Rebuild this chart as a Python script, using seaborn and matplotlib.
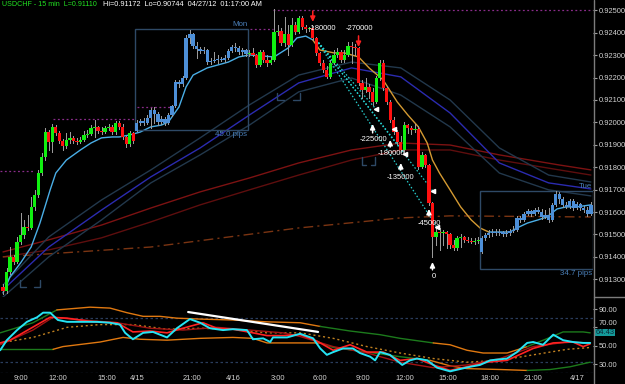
import numpy as np
import matplotlib
matplotlib.use("Agg")
import matplotlib.pyplot as plt
from matplotlib.patches import Rectangle
from matplotlib.lines import Line2D
from matplotlib import font_manager
import matplotlib.transforms as mtransforms
import seaborn as sns

# ---------------- data: USDCHF 15-min candles ----------------
close = [
    0.91248, 0.91333, 0.91400, 0.91377, 0.91467, 0.91498, 0.91534, 0.91529, 0.91623, 0.91676,
    0.91774, 0.91846, 0.91957, 0.91913, 0.91980, 0.91953, 0.91917, 0.91895, 0.91922, 0.91931,
    0.91917, 0.91913, 0.91922, 0.91944, 0.91948, 0.91975, 0.91980, 0.91962, 0.91957, 0.91975,
    0.91980, 0.91957, 0.91997, 0.91980, 0.91935, 0.91904, 0.91953, 0.91917, 0.91997, 0.92006,
    0.91997, 0.92020, 0.92055, 0.92038, 0.92002, 0.92015, 0.91997, 0.92033, 0.92073, 0.92180,
    0.92171, 0.92198, 0.92377, 0.92394, 0.92341, 0.92327, 0.92319, 0.92323, 0.92269, 0.92274,
    0.92278, 0.92283, 0.92278, 0.92287, 0.92319, 0.92336, 0.92332, 0.92314, 0.92323, 0.92305,
    0.92310, 0.92301, 0.92256, 0.92314, 0.92278, 0.92265, 0.92278, 0.92403, 0.92408, 0.92354,
    0.92394, 0.92345, 0.92434, 0.92403, 0.92466, 0.92426, 0.92417, 0.92421, 0.92377, 0.92310,
    0.92265, 0.92234, 0.92203, 0.92265, 0.92301, 0.92314, 0.92278, 0.92301, 0.92341, 0.92336,
    0.92332, 0.92176, 0.92145, 0.92158, 0.92136, 0.92091, 0.92198, 0.92265, 0.92154, 0.92091,
    0.92011, 0.91957, 0.91913, 0.91877, 0.91988, 0.91975, 0.91966, 0.91971, 0.91801, 0.91855,
    0.91810, 0.91641, 0.91489, 0.91511, 0.91507, 0.91511, 0.91502, 0.91453, 0.91440, 0.91485,
    0.91489, 0.91476, 0.91471, 0.91467, 0.91471, 0.91476, 0.91485, 0.91498, 0.91507, 0.91511,
    0.91507, 0.91511, 0.91502, 0.91507, 0.91516, 0.91520, 0.91574, 0.91565, 0.91592, 0.91605,
    0.91592, 0.91609, 0.91600, 0.91578, 0.91587, 0.91565, 0.91632, 0.91681, 0.91658, 0.91632,
    0.91623, 0.91650, 0.91618, 0.91636, 0.91618, 0.91609, 0.91592, 0.91632]
high = [
    0.91279, 0.91351, 0.91444, 0.91409, 0.91489, 0.91596, 0.91565, 0.91587, 0.91667, 0.91699,
    0.91788, 0.91864, 0.91975, 0.91966, 0.91993, 0.91988, 0.91962, 0.91926, 0.91953, 0.91957,
    0.91939, 0.91931, 0.91935, 0.91962, 0.91966, 0.91988, 0.92011, 0.91984, 0.91980, 0.91984,
    0.91993, 0.91988, 0.92006, 0.92006, 0.91993, 0.91939, 0.91962, 0.91957, 0.92011, 0.92015,
    0.92020, 0.92033, 0.92064, 0.92069, 0.92046, 0.92029, 0.92024, 0.92042, 0.92078, 0.92189,
    0.92189, 0.92207, 0.92390, 0.92412, 0.92399, 0.92359, 0.92336, 0.92336, 0.92327, 0.92287,
    0.92314, 0.92301, 0.92292, 0.92301, 0.92327, 0.92345, 0.92354, 0.92341, 0.92332, 0.92327,
    0.92323, 0.92332, 0.92305, 0.92323, 0.92323, 0.92301, 0.92292, 0.92506, 0.92434, 0.92421,
    0.92470, 0.92434, 0.92466, 0.92448, 0.92475, 0.92475, 0.92434, 0.92426, 0.92430, 0.92381,
    0.92314, 0.92278, 0.92252, 0.92278, 0.92323, 0.92332, 0.92323, 0.92323, 0.92359, 0.92359,
    0.92350, 0.92336, 0.92189, 0.92198, 0.92171, 0.92154, 0.92207, 0.92278, 0.92278, 0.92162,
    0.92100, 0.92024, 0.91966, 0.91939, 0.92002, 0.91993, 0.91984, 0.91993, 0.91984, 0.91868,
    0.91859, 0.91815, 0.91645, 0.91529, 0.91529, 0.91520, 0.91516, 0.91507, 0.91476, 0.91493,
    0.91502, 0.91493, 0.91489, 0.91485, 0.91485, 0.91489, 0.91493, 0.91507, 0.91520, 0.91525,
    0.91525, 0.91525, 0.91516, 0.91520, 0.91525, 0.91538, 0.91583, 0.91583, 0.91600, 0.91614,
    0.91609, 0.91618, 0.91623, 0.91614, 0.91609, 0.91618, 0.91641, 0.91694, 0.91690, 0.91667,
    0.91645, 0.91658, 0.91658, 0.91645, 0.91641, 0.91627, 0.91623, 0.91645]
low = [
    0.91235, 0.91239, 0.91324, 0.91369, 0.91373, 0.91458, 0.91485, 0.91520, 0.91525, 0.91609,
    0.91667, 0.91765, 0.91832, 0.91877, 0.91868, 0.91944, 0.91908, 0.91877, 0.91886, 0.91908,
    0.91908, 0.91904, 0.91908, 0.91917, 0.91935, 0.91944, 0.91935, 0.91953, 0.91948, 0.91953,
    0.91966, 0.91948, 0.91948, 0.91971, 0.91926, 0.91890, 0.91895, 0.91908, 0.91962, 0.91988,
    0.91988, 0.91993, 0.91975, 0.91997, 0.91988, 0.91993, 0.91988, 0.91993, 0.92029, 0.92069,
    0.92158, 0.92162, 0.92194, 0.92354, 0.92332, 0.92287, 0.92310, 0.92310, 0.92261, 0.92261,
    0.92269, 0.92265, 0.92274, 0.92269, 0.92283, 0.92314, 0.92319, 0.92305, 0.92301, 0.92296,
    0.92296, 0.92296, 0.92247, 0.92252, 0.92269, 0.92252, 0.92261, 0.92274, 0.92390, 0.92345,
    0.92341, 0.92301, 0.92341, 0.92394, 0.92399, 0.92417, 0.92403, 0.92408, 0.92368, 0.92301,
    0.92256, 0.92225, 0.92198, 0.92198, 0.92261, 0.92292, 0.92269, 0.92269, 0.92296, 0.92265,
    0.92301, 0.92167, 0.92109, 0.92136, 0.92109, 0.92078, 0.92087, 0.92189, 0.92145, 0.92082,
    0.92002, 0.91948, 0.91904, 0.91868, 0.91864, 0.91953, 0.91948, 0.91957, 0.91792, 0.91797,
    0.91801, 0.91632, 0.91400, 0.91453, 0.91431, 0.91453, 0.91440, 0.91440, 0.91431, 0.91431,
    0.91444, 0.91467, 0.91467, 0.91462, 0.91458, 0.91462, 0.91418, 0.91476, 0.91489, 0.91493,
    0.91498, 0.91498, 0.91493, 0.91493, 0.91498, 0.91511, 0.91516, 0.91556, 0.91560, 0.91587,
    0.91583, 0.91587, 0.91596, 0.91569, 0.91574, 0.91556, 0.91560, 0.91627, 0.91641, 0.91623,
    0.91618, 0.91618, 0.91609, 0.91614, 0.91609, 0.91600, 0.91583, 0.91587]
first_open = 0.91266
gap_opens = {38: 0.91962, 136: 0.91422}

# session boxes: (first bar, last bar, high, low, name)
sessions = [(38, 69, 0.92417, 0.91967, "Mon"), (136, 167, 0.91694, 0.91347, "Tue")]

# prior session high levels: (price, from bar, to bar)
levels = [(0.91783, -0.8, 8.5), (0.92015, 14.2, 37.5), (0.92069, 38.0, 48.3),
          (0.92417, 70.2, 76.7), (0.92501, 76.7, 167.6)]

# session low brackets: (from bar, to bar, top price, bottom price)
brackets = [(4.8, 10.5, 0.91297, 0.91266), (77.8, 84.4, 0.92131, 0.92100), (102.0, 105.7, 0.91846, 0.91810)]

# moving average (light blue, orange while trending down)
ema_bar = [0, 2, 5, 8, 10.5, 13.4, 15, 18, 22, 25, 28, 31, 33, 36, 39, 42, 45, 47, 50, 52,
           54, 58, 64, 67, 70, 77, 81, 83.5, 86, 88, 90, 94, 97, 101, 104, 108, 112, 115, 118,
           120.5, 122, 124, 127, 130, 133, 135.5, 138, 144, 146, 149, 152, 154.5, 157.4, 160, 163, 167]
ema_price = [0.91239, 0.91311, 0.91373, 0.91444, 0.91551, 0.91699, 0.91774, 0.91832, 0.91877, 0.91908,
             0.91931, 0.91935, 0.91935, 0.91944, 0.91957, 0.91980, 0.91988, 0.92002, 0.92069, 0.92158,
             0.92211, 0.92243, 0.92269, 0.92292, 0.92301, 0.92292, 0.92332, 0.92377, 0.92385, 0.92368,
             0.92323, 0.92310, 0.92310, 0.92292, 0.92243, 0.92189, 0.92091, 0.92033, 0.91980, 0.91908,
             0.91832, 0.91774, 0.91699, 0.91623, 0.91565, 0.91529, 0.91511, 0.91511, 0.91529, 0.91551,
             0.91565, 0.91578, 0.91614, 0.91623, 0.91623, 0.91632]
ema_down_breaks = [88, 138]

# envelope bands
band_bar = [0, 13, 28, 42, 56, 70, 84, 99, 113, 127, 141, 155, 167]
band_upper = [0.91275, 0.91489, 0.91654, 0.91788, 0.91931, 0.92078, 0.92211, 0.92269, 0.92243, 0.92100, 0.91886, 0.91765, 0.91734]
band_mid = [0.91253, 0.91444, 0.91609, 0.91757, 0.91886, 0.92033, 0.92176, 0.92243, 0.92203, 0.92042, 0.91819, 0.91730, 0.91703]
band_lower = [0.91221, 0.91400, 0.91565, 0.91730, 0.91855, 0.91988, 0.92136, 0.92198, 0.92122, 0.91980, 0.91774, 0.91699, 0.91672]

# slow averages (dark red)
slow_bar = [0, 13, 28, 42, 56, 70, 84, 99, 113, 127, 141, 158, 167]
slow_a = [0.91422, 0.91476, 0.91542, 0.91618, 0.91690, 0.91752, 0.91819, 0.91877, 0.91908, 0.91899, 0.91855, 0.91810, 0.91788]
slow_b = [0.91400, 0.91431, 0.91485, 0.91556, 0.91632, 0.91699, 0.91765, 0.91832, 0.91877, 0.91877, 0.91832, 0.91788, 0.91765]
pivot_bar = [0, 42, 84, 113, 127, 167]
pivot_price = [0.91400, 0.91444, 0.91529, 0.91574, 0.91583, 0.91578]

# trades
sell_bars = [88, 101]
sell_tail = [0.92497, 0.92386]
sell_tip = [0.92448, 0.92336]
sell_labels = [(86.8, 0.92417, "-180000"), (97.2, 0.92417, "-270000")]
exit_arrow_bars = [105, 110, 113, 121, 122]
exit_arrow_tail = [0.91953, 0.91890, 0.91788, 0.91583, 0.91342]
exit_arrow_tip = [0.91993, 0.91922, 0.91819, 0.91614, 0.91377]
exit_labels = [(101.4, 0.91922, "-225000"), (106.3, 0.91859, "-180000"), (109.1, 0.91752, "-135000"),
               (117.9, 0.91551, "-45000"), (122.4, 0.91314, "0")]
exit_mark_bar = [105.9, 111.1, 114.2, 122.1, 123.2]
exit_mark_price = [0.92060, 0.91971, 0.91859, 0.91694, 0.91534]
entry_bar, entry_price = 89.0, 0.92368

# ---------------- oscillator panel ----------------
cyan_bar = [-0.8, 1.1, 4.0, 6.8, 9.7, 11.4, 13.4, 15.6, 18.2, 22.7, 26.7, 30.4, 33.2, 34.7, 36.9, 39.8,
            42.6, 46.6, 49.4, 53.1, 56.0, 58.8, 62.5, 65.3, 69.3, 71.0, 73.9, 75.9, 76.7, 80.7, 84.4,
            88.1, 90.1, 92.0, 93.8, 96.6, 99.4, 101.4, 104.3, 105.7, 107.1, 109.9, 113.4, 115.6, 117.6,
            120.5, 123.3, 127.0, 129.8, 132.7, 135.5, 138.4, 143.2, 146.0, 148.9, 150.6, 153.4, 156.3,
            159.1, 161.9, 164.8, 166.8]
cyan_val = [45, 56, 67, 76, 81, 86, 86, 78, 76, 76, 76, 75, 73, 64, 57, 64, 65, 59, 69, 79, 75, 69,
            67, 68, 67, 57, 58, 54, 59, 59, 63, 58, 47, 40, 43, 47, 47, 42, 38, 34, 43, 40, 29, 34, 36,
            34, 26, 22, 24.5, 27, 29, 34, 36, 43, 53, 54, 51, 62, 56, 54, 53, 53]
red_bar = [-0.8, 2.0, 13.4, 18.2, 25.6, 32.4, 36.9, 41.8, 46.6, 51.1, 56.8, 60.8, 65.3, 71.0, 75.0,
           79.5, 84.4, 89.2, 93.8, 98.6, 103.4, 108.0, 112.8, 117.6, 122.2, 127.0, 131.8, 137.5,
           143.2, 150.6, 156.3, 161.9, 164.8, 166.8]
red_val = [53, 56, 81, 80, 76, 75, 65, 66, 64, 69, 75, 69, 68, 64, 61, 61, 62, 55, 45, 51, 43, 43,
           34, 36, 29, 23, 27, 32, 34, 47, 53, 54, 49, 52]
dred_bar = [-0.8, 8.5, 14.2, 22.7, 32.4, 41.8, 51.1, 60.8, 70.2, 79.5, 84.4, 93.8, 103.4, 112.8,
            122.2, 131.8, 141.2, 150.6, 160.2, 166.8]
dred_val = [51, 67, 81, 78, 75, 69, 67, 70, 67, 64, 60, 49, 42, 32, 26, 29, 36, 49, 54, 53]
up_bar = [-0.8, 8.5, 15.3, 24.7, 30.4, 35.2, 39.8, 44.6, 49.4, 56.0, 65.3, 75.0, 84.4, 90.1, 98.6,
          107.1, 112.8, 122.2, 127.0, 131.8, 136.4, 143.2, 148.9, 155.4, 159.1, 164.8, 166.8]
up_val = [64, 75, 89, 92, 91, 86, 82, 82, 80, 79, 78, 76, 75, 71, 66, 62, 58, 53, 51, 45, 42, 42,
          49, 59, 65, 65, 64]
up_breaks = [15.3, 90.1, 122.2, 148.9]
lo_bar = [-0.8, 14.2, 17.0, 27.6, 34.1, 38.9, 46.6, 56.0, 65.3, 71.0, 75.0, 84.4, 90.1, 93.8, 103.4,
          112.8, 121.3, 127.0, 131.8, 141.2, 148.9, 155.4, 161.1, 166.8]
lo_val = [46, 46, 49, 54, 59, 57, 56, 58, 59, 58, 53, 53, 53, 48, 43, 38, 34, 28, 25, 24, 23, 24, 27, 32]
lo_breaks = [14.2, 90.1, 121.3, 148.9]
mid_bar = [-0.8, 8.5, 18.2, 27.6, 36.9, 46.6, 56.0, 65.3, 75.0, 84.4, 93.8, 103.4, 112.8, 122.2,
           131.8, 141.2, 150.6, 160.2, 166.8]
mid_val = [53, 59, 70, 73, 73, 68, 69, 68, 64, 64, 58, 49, 42, 36, 32, 34, 40, 46, 48]
trend_bar = [52.6, 89.5]
trend_val = [86.7, 65.0]
osc_last = 64.43

price_ticks = [0.913, 0.914, 0.915, 0.916, 0.917, 0.918, 0.919, 0.920, 0.921, 0.922, 0.923, 0.924, 0.925]
osc_ticks = [30, 50, 70, 90]
osc_grid = [80, 32, 20]
time_pos = [5.1, 15.6, 29.5, 38.1, 53.7, 65.3, 78.1, 90.0, 102.3, 114.2, 126.4, 138.4, 150.6, 163.1]
time_lab = ["9:00", "12:00", "15:00", "4/15", "21:00", "4/16", "3:00", "6:00", "9:00", "12:00",
            "15:00", "18:00", "21:00", "4/17"]
header_a = "USDCHF - 15 min  L=0.91110"
header_b = "Hi=0.91172  Lo=0.90744  04/27/12  01:17:00 AM"

# ---------------- style ----------------
sns.set_theme(style="dark", rc={"axes.facecolor": "black", "figure.facecolor": "black",
                                "axes.grid": False})
avail = {f.name for f in font_manager.fontManager.ttflist}
FONT = "Liberation Sans Narrow" if "Liberation Sans Narrow" in avail else "Liberation Sans"
plt.rcParams["font.family"] = [FONT, "DejaVu Sans"]

W, H = 625, 384
fig = plt.figure(figsize=(W / 100, H / 100), dpi=100)
fig.patch.set_facecolor("black")
ax = fig.add_axes([0, 1 - 297 / H, 593 / W, 297 / H])
ax2 = fig.add_axes([0, 1 - 373 / H, 593 / W, 75 / H])
renderer = fig.canvas.get_renderer()


def fit(text, target_px, base=7.0):
    t = fig.text(0, 0, text, fontsize=base)
    w = t.get_window_extent(renderer).width
    t.remove()
    return base * target_px / w


FS_TICK = fit("0.92500", 27)
FS_SMALL = fit("-225000", 28)

for a in (ax, ax2):
    a.set_facecolor("black")
    for sp in a.spines.values():
        sp.set_visible(False)
    a.set_xlim(-0.85, 167.6)
ax.set_ylim(0.91221, 0.92546)
ax2.set_ylim(20.2, 102)


def sline(a, xs, ys, color, lw=1.0, ls="-", z=2, alpha=1.0):
    sns.lineplot(x=list(xs), y=list(ys), ax=a, color=color, linewidth=lw, linestyle=ls,
                 estimator=None, sort=False, legend=False, zorder=z, alpha=alpha)


def seg_plot(a, xs, ys, breaks, colors, **kw):
    xs = np.asarray(xs, float)
    ys = np.asarray(ys, float)
    edges = [xs[0]] + list(breaks) + [xs[-1]]
    for k in range(len(edges) - 1):
        m = (xs >= edges[k] - 1e-9) & (xs <= edges[k + 1] + 1e-9)
        sline(a, xs[m], ys[m], colors[k % len(colors)], **kw)


# ---------------- main panel ----------------
sline(ax, slow_bar, slow_a, "#7c1212", lw=1.0, z=1)
sline(ax, slow_bar, slow_b, "#5e0e0e", lw=1.0, z=1)
sline(ax, pivot_bar, pivot_price, "#7a3412", lw=1.0, ls=(0, (7, 3, 1.5, 3)), z=1)
sline(ax, band_bar, band_upper, "#22384c", lw=1.0, z=1)
sline(ax, band_bar, band_lower, "#22384c", lw=1.0, z=1)
sline(ax, band_bar, band_mid, "#2b2bb0", lw=1.0, z=1)
seg_plot(ax, ema_bar, ema_price, ema_down_breaks, ["#4aaee6", "#d49a32"], lw=1.0, z=2)

for price, b0, b1 in levels:
    ax.plot([b0, b1], [price, price], color="#8a2c8a", lw=0.9, ls=(0, (1.5, 2)), zorder=1)

for b0, b1, ptop, pbot in brackets:
    span = (b1 - b0) * 0.3
    ax.plot([b0, b0, b0 + span], [ptop, pbot, pbot], color="#2e4966", lw=1.0, zorder=1)
    ax.plot([b1 - span, b1, b1], [pbot, pbot, ptop], color="#2e4966", lw=1.0, zorder=1)

# trade dotted lines
for bx, py in zip(exit_mark_bar[2:], exit_mark_price[2:]):
    ax.plot([entry_bar, bx], [entry_price, py], color="#27d0d0", lw=0.9, ls=(0, (1.2, 1.6)), zorder=2)
ax.plot([entry_bar, exit_mark_bar[0]], [entry_price, exit_mark_price[0]], color="#27d0d0",
        lw=0.9, ls=(0, (1.2, 1.6)), zorder=2)

# candles
o = np.array([first_open] + close[:-1], float)
for k, v in gap_opens.items():
    o[k] = v
c = np.array(close)
hi = np.array(high)
lo = np.array(low)
n = len(c)
idx = np.arange(n)
in_sess = np.zeros(n, bool)
for s0, s1, _, _, _ in sessions:
    in_sess[s0:s1 + 1] = True
col = np.where(in_sess, "#4d8fd8", np.where(c >= o, "#10f010", "#ff1010"))
ax.vlines(idx, lo, hi, color="#9a9a9a", lw=0.72, zorder=3, antialiased=False)
bottom = np.minimum(o, c)
height = np.maximum(np.abs(c - o), 0.00003)
ax.bar(idx, height, bottom=bottom, width=0.93, color=col, linewidth=0, zorder=4, antialiased=False)

# session boxes
for s0, s1, shi, slo, name in sessions:
    ax.add_patch(Rectangle((s0 - 0.5, slo), s1 - s0 + 1, shi - slo, fill=False,
                           edgecolor="#2e4966", lw=1.0, zorder=2))
    ax.text(s1 + 0.4, shi + 0.00006, name, color="#4a7fb8", fontsize=FS_TICK * 1.05,
            ha="right", va="bottom", zorder=6)
    ax.text(s1 + 0.4, slo - 0.00006, f"{(shi - slo) * 1e4:.1f} pips", color="#4a7fb8",
            fontsize=FS_TICK * 1.05, ha="right", va="top", zorder=6)

# arrows and labels
for b, t0, t1 in zip(sell_bars, sell_tail, sell_tip):
    ax.annotate("", xy=(b, t1), xytext=(b, t0),
                arrowprops=dict(arrowstyle="-|>,head_length=0.25,head_width=0.12", color="#ff2020",
                                lw=1.1, shrinkA=0, shrinkB=0), zorder=7)
for b, t0, t1 in zip(exit_arrow_bars, exit_arrow_tail, exit_arrow_tip):
    ax.annotate("", xy=(b, t1), xytext=(b, t0),
                arrowprops=dict(arrowstyle="-|>,head_length=0.25,head_width=0.12", color="white",
                                lw=1.1, shrinkA=0, shrinkB=0), zorder=7)
for bx, py, txt in sell_labels + exit_labels[:-1]:
    ax.text(bx, py, txt, color="white", fontsize=FS_SMALL, ha="left", va="center", zorder=8)
bx, py, txt = exit_labels[-1]
ax.text(bx, py, txt, color="white", fontsize=FS_SMALL, ha="center", va="center", zorder=8)
ax.plot(exit_mark_bar, exit_mark_price, ls="none", marker="<", ms=3, color="white", zorder=8)

ax.set_xticks([])
ax.yaxis.tick_right()
ax.set_yticks(price_ticks)
ax.set_yticklabels([f"{v:.5f}" for v in price_ticks])
ax.tick_params(axis="y", colors="#a0a0a0", labelcolor="#d4d4d4", length=3, width=0.8,
               pad=1, labelsize=FS_TICK, direction="out")

# ---------------- oscillator panel ----------------
for g in osc_grid:
    ax2.axhline(g, color="#2a3c5c", lw=0.9, ls=(0, (2, 2)), zorder=1)
seg_plot(ax2, up_bar, up_val, up_breaks, ["#1c7a1c", "#e07810"], lw=1.0, z=2)
seg_plot(ax2, lo_bar, lo_val, lo_breaks, ["#1c7a1c", "#e07810"], lw=1.0, z=2)
sline(ax2, mid_bar, mid_val, "#c08020", lw=1.0, ls=(0, (1.5, 2)), z=2)
sline(ax2, dred_bar, dred_val, "#a01212", lw=1.0, z=3)
sline(ax2, red_bar, red_val, "#ff2222", lw=1.2, z=4)
sline(ax2, cyan_bar, cyan_val, "#25e4f4", lw=1.4, z=5)
sline(ax2, trend_bar, trend_val, "white", lw=1.6, z=6)

ax2.yaxis.tick_right()
ax2.set_yticks(osc_ticks)
ax2.set_yticklabels([f"{v:.2f}" for v in osc_ticks])
ax2.tick_params(axis="y", colors="#a0a0a0", labelcolor="#d4d4d4", length=3, width=0.8,
                pad=1, labelsize=FS_TICK, direction="out")
for t in ax2.get_yticklabels():
    if t.get_text() == "70.00":
        t.set_va("bottom")
ax2.set_xticks(time_pos)
ax2.set_xticklabels(time_lab)
ax2.tick_params(axis="x", length=0, pad=1.5, labelcolor="#d4d4d4", labelsize=FS_TICK)

trans = mtransforms.blended_transform_factory(ax2.transAxes, ax2.transData)
ax2.text(1.004, osc_last, f"{osc_last:.2f}", transform=trans, color="#0c2636", fontsize=FS_TICK,
         ha="left", va="center", zorder=10, clip_on=False,
         bbox=dict(boxstyle="square,pad=0.05", facecolor="#149a9a", edgecolor="none"))

# separators
fig.add_artist(Line2D([593.5 / W, 593.5 / W], [0, 1], color="#7c7c7c", lw=1.0))
fig.add_artist(Line2D([593.5 / W, 1.0], [1 - 296.5 / H, 1 - 296.5 / H], color="#7c7c7c", lw=1.0))

# header
fs_a = fit(header_a, 95)
fs_b = fit(header_b, 159)
fig.text(2 / W, 1 - 1.5 / H, header_a, color="#22e622", fontsize=fs_a, va="top", ha="left")
fig.text(103 / W, 1 - 1.5 / H, header_b, color="white", fontsize=fs_b, va="top", ha="left")

fig.savefig("out.png", dpi=100, facecolor="black")
